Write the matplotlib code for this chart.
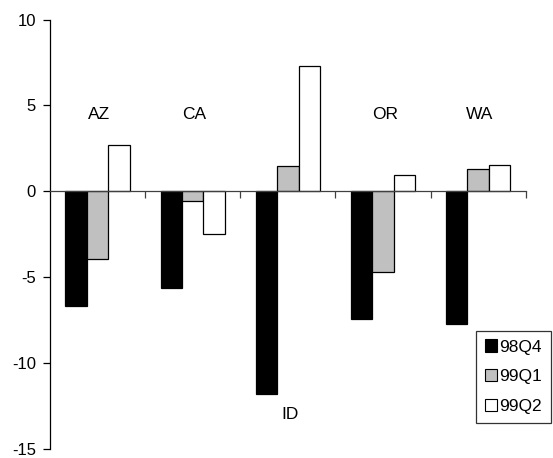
import matplotlib
matplotlib.use("Agg")
import matplotlib.pyplot as plt
import numpy as np
from matplotlib.patches import Patch

plt.rcParams['font.family'] = ['Liberation Sans', 'DejaVu Sans']

states = ["AZ", "CA", "ID", "OR", "WA"]
series_names = ["98Q4", "99Q1", "99Q2"]
q98q4 = [-6.65, -5.61, -11.77, -7.43, -7.72]
q99q1 = [-3.95, -0.59, 1.48, -4.72, 1.29]
q99q2 = [2.71, -2.48, 7.29, 0.97, 1.55]
label_y = [4.45, 4.45, -13.0, 4.45, 4.45]
yticks = [-15, -10, -5, 0, 5, 10]

colors = ["#000000", "#c0c0c0", "#ffffff"]

fig = plt.figure(figsize=(5.53, 4.58), dpi=100)
top_px, bot_px = 19.5, 449.0
ax = fig.add_axes([50/553, 1-bot_px/458, (525.7-50)/553, (bot_px-top_px)/458])

x = np.arange(len(states))
w = 0.225
for i, (vals, c) in enumerate(zip([q98q4, q99q1, q99q2], colors)):
    ax.bar(x + (i-1)*w, vals, width=w, color=c, edgecolor="black", linewidth=0.9, zorder=2)

for xi, s, ly in zip(x, states, label_y):
    ax.text(xi + 0.02, ly, s, ha="center", va="center", fontsize=12.5)

ax.set_xlim(-0.5, 4.5)
ax.set_ylim(-15, 10)
ax.set_yticks(yticks)
ax.set_yticklabels([str(t) for t in yticks], fontsize=12)
ax.set_xticks(np.arange(0.5, 5, 1.0))
ax.set_xticklabels([])
ax.tick_params(axis="y", direction="out", length=5, width=0.9, pad=5)
ax.tick_params(axis="x", direction="out", length=5, width=0.9, color="#404040")
ax.spines["top"].set_visible(False)
ax.spines["right"].set_visible(False)
ax.spines["bottom"].set_position(("data", 0))
ax.spines["bottom"].set_color("#404040")
ax.spines["bottom"].set_linewidth(0.9)
ax.spines["bottom"].set_zorder(3)
ax.spines["left"].set_linewidth(0.9)

handles = [Patch(facecolor=c, edgecolor="black", linewidth=0.8) for c in colors]
leg = fig.legend(handles, series_names, loc="upper left",
                 bbox_to_anchor=(476/553, 1-330.7/458), fontsize=12.5,
                 frameon=True, fancybox=False, borderaxespad=0,
                 handlelength=0.7, handleheight=0.7, handletextpad=0.15,
                 labelspacing=0.85, borderpad=0.5)
leg.get_frame().set_edgecolor("black")
leg.get_frame().set_linewidth(0.9)

fig.savefig("out.png", dpi=100)
